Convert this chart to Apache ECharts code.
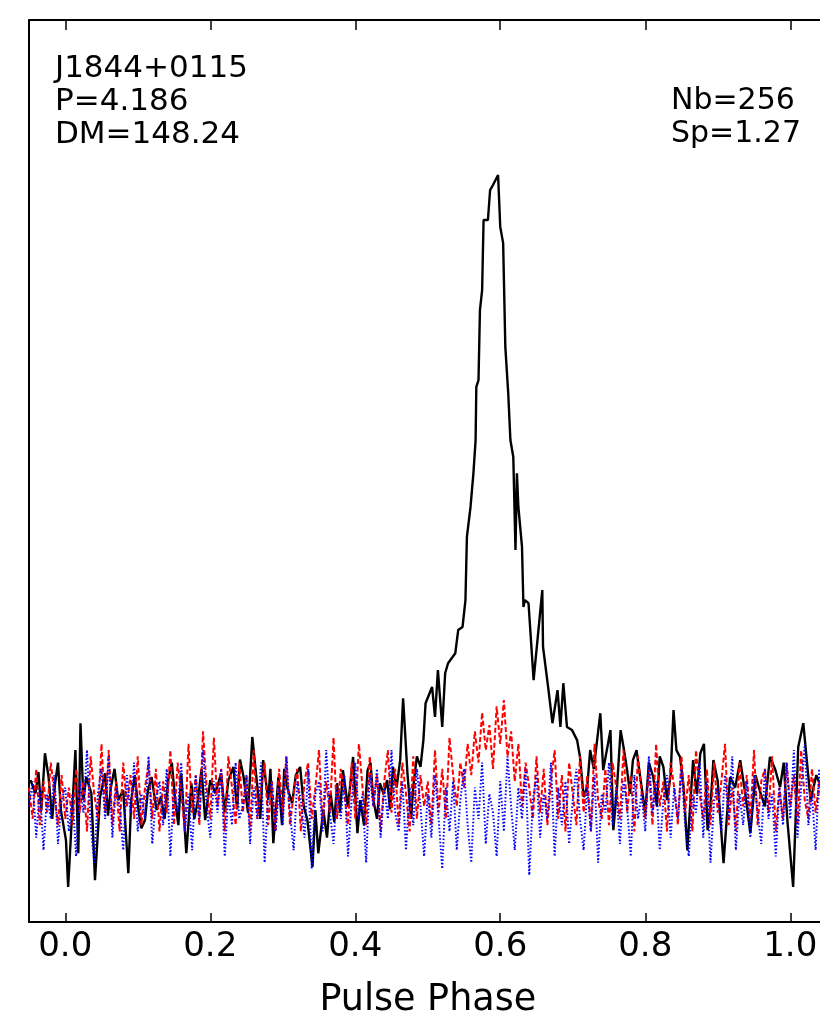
<!DOCTYPE html>
<html>
<head>
<meta charset="utf-8">
<script src="https://cdn.jsdelivr.net/npm/echarts@6/dist/echarts.min.js"></script>
<style>
  html, body { margin: 0; padding: 0; background: #ffffff; }
  #chart { width: 820px; height: 1020px; }
</style>
</head>
<body>
<div id="chart"></div>
<script>
// Folded pulse profile of PSR J1844+0115 (256 bins) with two reference traces.
const phaseTicks = [0.0, 0.2, 0.4, 0.6, 0.8, 1.0];
const sourceLines = ['J1844+0115', 'P=4.186', 'DM=148.24'];
const foldLines = ['Nb=256', 'Sp=1.27'];

// Total intensity profile: [pulse phase, relative flux] (peak = 100)
const profile = [
  [-0.048,3.2],[-0.041,1.1],[-0.037,4.5],[-0.033,-1.6],[-0.028,7.5],[-0.023,3.7],[-0.018,-3.0],[-0.014,2.7],[-0.010,6.0],[-0.006,-1.6],
  [0.001,-6.4],[0.004,-13.9],[0.008,-5.3],[0.014,8.0],[0.018,-8.5],[0.021,12.3],[0.025,0],[0.029,3.7],[0.036,1.1],[0.041,-12.8],
  [0.048,0.5],[0.055,4.3],[0.059,-2.5],[0.063,2.1],[0.068,5.0],[0.073,0],[0.080,1.6],[0.087,-11.7],[0.091,0],[0.096,4.0],
  [0.101,-1.6],[0.105,-4.5],[0.110,-3.2],[0.114,1.5],[0.119,3.7],[0.126,-1.6],[0.132,0.5],[0.137,-3.0],[0.142,3.2],[0.147,6.0],
  [0.152,-0.5],[0.156,-4.0],[0.160,4.3],[0.167,-8.5],[0.174,2.7],[0.178,-3.0],[0.183,0],[0.188,5.0],[0.193,-3.2],[0.200,3.2],
  [0.207,1.1],[0.215,4.3],[0.220,-2.0],[0.225,3.2],[0.232,5.3],[0.237,-1.5],[0.241,6.5],[0.246,3.7],[0.252,-2.0],[0.258,10.1],
  [0.265,2.1],[0.269,-3.0],[0.273,6.4],[0.280,0],[0.283,5.0],[0.287,-6.9],[0.294,3.7],[0.299,-4.0],[0.302,5.0],[0.306,2.1],
  [0.313,-0.5],[0.318,4.0],[0.324,5.3],[0.329,-1.0],[0.334,-3.2],[0.341,-10.7],[0.345,-1.6],[0.349,-8.5],[0.356,-1.6],[0.361,-6.0],
  [0.366,1.1],[0.371,-3.5],[0.375,2.7],[0.379,-2.0],[0.383,4.8],[0.390,-1.1],[0.397,6.9],[0.403,-5.3],[0.407,0],[0.412,-4.0],
  [0.417,4.8],[0.421,6.0],[0.425,0],[0.430,-3.0],[0.434,2.7],[0.439,1.0],[0.444,3.2],[0.448,-1.5],[0.452,5.3],[0.457,2.0],
  [0.462,6.4],[0.466,16.3],[0.472,4.3],[0.477,-3.0],[0.480,2.1],[0.485,7.0],[0.490,5.3],[0.494,9.6],[0.497,15.5],[0.506,18.1],
  [0.510,13.3],[0.514,20.8],[0.520,11.7],[0.524,20.3],[0.528,21.9],[0.538,23.5],[0.542,27.2],[0.548,27.7],[0.552,32.0],[0.554,42.1],
  [0.559,46.9],[0.563,52.3],[0.566,57.6],[0.567,66.1],[0.570,67.2],[0.572,78.4],[0.575,81.6],[0.577,92.8],[0.583,92.8],[0.586,97.6],
  [0.590,98.4],[0.597,100],[0.600,91.7],[0.604,89.1],[0.607,72.5],[0.611,65.1],[0.614,57.6],[0.618,54.9],[0.621,40.0],[0.623,52.3],
  [0.625,46.9],[0.630,40.5],[0.632,30.9],[0.634,32.0],[0.639,31.5],[0.646,19.2],[0.658,33.6],[0.659,24.5],[0.666,18.1],[0.672,12.3],
  [0.679,17.6],[0.683,11.7],[0.687,18.7],[0.692,11.7],[0.699,11.2],[0.706,9.6],[0.710,6.9],[0.715,0.5],[0.720,2.1],[0.724,8.0],
  [0.729,5.0],[0.733,9.0],[0.738,13.9],[0.742,4.8],[0.747,8.0],[0.752,11.2],[0.756,-4.8],[0.761,2.0],[0.766,11.2],[0.770,8.5],
  [0.775,4.8],[0.779,1.0],[0.783,6.4],[0.788,8.0],[0.793,3.7],[0.800,-2.0],[0.805,6.0],[0.811,3.7],[0.816,-1.0],[0.820,7.0],
  [0.825,5.3],[0.830,0],[0.835,4.0],[0.839,14.4],[0.843,8.0],[0.848,6.9],[0.853,2.0],[0.858,-8.0],[0.866,6.4],[0.871,1.0],
  [0.876,7.5],[0.881,9.0],[0.886,-4.8],[0.890,-1.0],[0.894,6.4],[0.900,3.0],[0.908,-10.1],[0.913,-2.0],[0.917,3.7],[0.924,2.0],
  [0.931,6.4],[0.938,1.0],[0.945,-5.3],[0.952,4.0],[0.959,1.1],[0.965,-1.0],[0.972,6.9],[0.979,5.0],[0.986,2.1],[0.991,6.0],
  [0.996,-3.2],[1.004,-13.9],[1.011,8.5],[1.018,12.3],[1.028,0],[1.036,4.0],[1.044,1.6],[1.052,0]
];

// Reference traces sampled every 0.005 in phase, starting at phase -0.05
const traceStart = -0.05;
const traceStep = 0.005;
const redTrace = [
  2,-3,5,-4,3,-2,6,1,-4,4,
  -3,2,-4,5,-2,3,-5,7,1,-3,
  9,-2,8,-4,3,-5,6,-1,4,-3,
  7,-4,2,6,-3,5,-5,3,-2,8,
  -4,6,1,-5,9,-2,4,-4,11,2,
  -3,10,-1,5,-5,7,2,-4,6,-2,
  4,-5,8,-3,2,6,-4,3,-5,5,
  -2,7,-4,1,5,-5,3,6,-3,2,
  8,-4,3,-2,10,-3,5,1,-4,6,
  -3,9,2,-4,7,-1,4,-5,3,8,
  -2,5,-4,6,1,-5,7,-3,4,-1,
  3,-4,8,-2,5,-3,10,4,-1,6,
  2,9,4,11,6,14,8,12,5,15,
  9,16,7,11,3,9,-1,6,2,-3,
  7,-2,5,-4,3,8,-3,4,-5,6,
  1,-4,7,-2,4,-5,9,0,-3,5,
  -4,6,2,-3,8,-2,4,-5,7,1,
  -3,5,-4,9,-1,3,-5,6,2,-4,
  7,-2,4,-5,8,1,-3,5,-4,6,
  -2,3,9,-4,2,-5,6,-1,4,-3,
  8,-4,3,5,-2,7,-5,2,-3,6,
  -1,4,-4,8,0,-3,5,-2,3,-4,2
];
const blueTrace = [
  -1,3,-6,2,-8,1,-3,4,-7,0,
  2,-5,1,-9,3,-2,8,-4,-10,1,
  5,-3,7,-6,2,-1,-8,4,-2,6,
  -5,1,-3,7,-7,0,3,-4,5,-9,
  2,-2,6,-5,1,-8,4,-3,8,-1,
  -6,3,-2,5,-9,1,-4,6,-3,-1,
  4,-7,2,-3,6,-10,1,3,-5,2,
  -4,7,-2,-8,3,0,-6,5,-11,1,
  3,-5,8,-2,-7,2,-3,4,-9,0,
  6,-3,1,-10,4,-1,5,-6,2,-3,
  8,-2,-5,3,-8,2,-4,5,-1,-9,
  1,-6,4,-3,-11,2,-5,3,-8,0,
  5,-4,-10,2,-3,6,-7,1,-2,-9,
  3,-5,7,-1,-8,2,-3,5,-12,0,
  4,-6,1,-3,6,-9,2,-4,3,-7,
  0,5,-3,-8,2,-5,4,-10,1,-2,
  6,-4,2,-7,3,-1,-9,4,-3,1,
  -5,7,-2,3,-8,0,4,-6,2,-3,
  5,-4,-9,1,-2,6,-6,3,-10,0,
  2,-5,4,-3,7,-8,1,-4,3,-6,
  4,-2,-7,5,-3,1,-9,2,-4,6,
  -3,8,-6,2,9,-4,1,-8,5,-2,3
];

const toPairs = arr => arr.map((v, i) => [traceStart + i * traceStep, v]);

const font = '"DejaVu Sans", "Liberation Sans", sans-serif';
const frameLine = { show: true, onZero: false, lineStyle: { color: '#000', width: 2 } };
const phaseMin = -0.05, phaseMax = 1.05;
const fluxMin = -19.5, fluxMax = 124.8;

const chart = echarts.init(document.getElementById('chart'), null, { renderer: 'canvas' });
chart.setOption({
  animation: false,
  backgroundColor: '#ffffff',
  grid: { left: 29, top: 20, width: 797.5, height: 902, containLabel: false, outerBoundsMode: 'none' },
  xAxis: [
    {
      type: 'value', position: 'bottom', min: phaseMin, max: phaseMax,
      axisLine: frameLine,
      axisTick: { show: true, inside: true, length: 9, customValues: phaseTicks, lineStyle: { color: '#000', width: 1.5 } },
      axisLabel: { show: true, customValues: phaseTicks, formatter: v => v.toFixed(1), fontSize: 34, fontFamily: font, color: '#000', margin: 8 },
      splitLine: { show: false },
      name: 'Pulse Phase', nameLocation: 'middle', nameGap: 60,
      nameTextStyle: { fontSize: 36.5, fontFamily: font, color: '#000' }
    },
    {
      type: 'value', position: 'top', min: phaseMin, max: phaseMax,
      axisLine: frameLine,
      axisTick: { show: true, inside: true, length: 10, customValues: phaseTicks, lineStyle: { color: '#000', width: 1.5 } },
      axisLabel: { show: false },
      splitLine: { show: false }
    }
  ],
  yAxis: [
    { type: 'value', position: 'left', min: fluxMin, max: fluxMax, axisLine: frameLine,
      axisTick: { show: false }, axisLabel: { show: false }, splitLine: { show: false } },
    { type: 'value', position: 'right', min: fluxMin, max: fluxMax, axisLine: frameLine,
      axisTick: { show: false }, axisLabel: { show: false }, splitLine: { show: false } }
  ],
  series: [
    {
      type: 'line', xAxisIndex: 0, yAxisIndex: 0, data: profile,
      showSymbol: false, symbol: 'none', clip: true, z: 2,
      lineStyle: { color: '#000000', width: 2.4 }
    },
    {
      type: 'line', xAxisIndex: 0, yAxisIndex: 0, data: toPairs(redTrace),
      showSymbol: false, symbol: 'none', clip: true, z: 3,
      lineStyle: { color: '#ff0000', width: 2, type: [5, 2.5] }
    },
    {
      type: 'line', xAxisIndex: 0, yAxisIndex: 0, data: toPairs(blueTrace),
      showSymbol: false, symbol: 'none', clip: true, z: 4,
      lineStyle: { color: '#0000ff', width: 2, type: [1.5, 2] }
    }
  ],
  graphic: [
    {
      type: 'text', left: 55, top: 52, z: 10,
      style: { text: sourceLines.join('\n'), font: '31px ' + font, lineHeight: 33, fill: '#000' }
    },
    {
      type: 'text', right: 19, top: 85, z: 10,
      style: { text: foldLines.join('\n'), font: '30px ' + font, lineHeight: 33, fill: '#000', align: 'right' }
    }
  ]
});
</script>
</body>
</html>
